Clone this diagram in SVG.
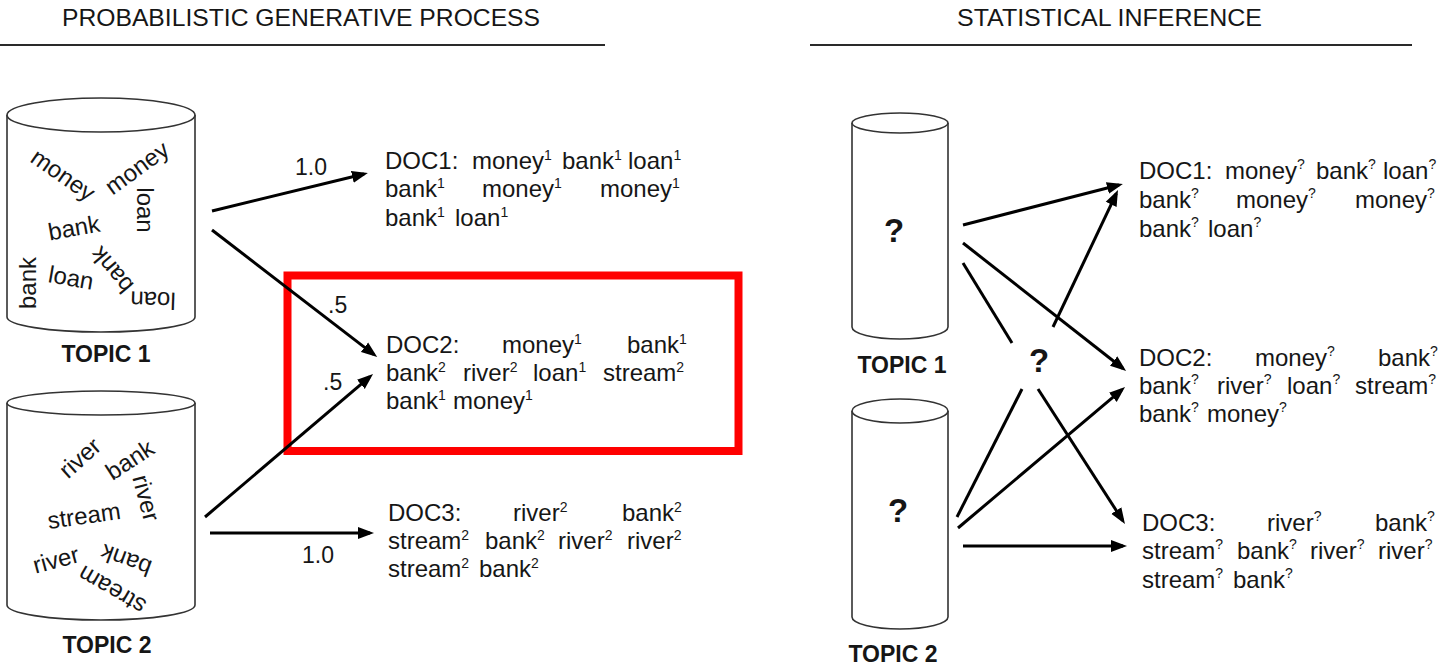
<svg xmlns="http://www.w3.org/2000/svg" width="1441" height="665" viewBox="0 0 1441 665">
  <style>
    text { font-family: "Liberation Sans", Arial, sans-serif; fill: #161616; }
    .title { font-size: 24px; }
    .doc { font-size: 24px; }
    .s { font-size: 14px; }
    .q { font-size: 14px; }
    .word { font-size: 24px; text-anchor: middle; }
    .label { font-size: 23px; font-weight: bold; text-anchor: middle; }
    .unknown { font-size: 33px; font-weight: bold; text-anchor: middle; }
    .prob { font-size: 23px; }
    .can { fill: #ffffff; stroke: #333333; stroke-width: 1.6; }
    .rule { stroke: #2a2a2a; stroke-width: 2; }
    .conn line { stroke: #000000; stroke-width: 3; }
    .arrow { marker-end: url(#head); }
  </style>
  <defs>
    <marker id="head" markerUnits="userSpaceOnUse" markerWidth="17" markerHeight="13" refX="12" refY="6.5" orient="auto">
      <path d="M0,0.5 L16,6.5 L0,12.5 z" fill="#000000"/>
    </marker>
  </defs>

  <rect width="1441" height="665" fill="#ffffff"/>

  <!-- section headings -->
  <g id="heading-generative">
    <text class="title" x="62" y="26" textLength="478" lengthAdjust="spacingAndGlyphs">PROBABILISTIC GENERATIVE PROCESS</text>
    <line class="rule" x1="0" y1="45" x2="605" y2="45"/>
  </g>
  <g id="heading-inference">
    <text class="title" x="957" y="26" textLength="305" lengthAdjust="spacingAndGlyphs">STATISTICAL INFERENCE</text>
    <line class="rule" x1="810" y1="45" x2="1412" y2="45"/>
  </g>

  <!-- generative side: topic 1 word bucket -->
  <g id="gen-topic1">
    <path class="can" d="M7,115 L7,317 A94,15 0 0 0 195,317 L195,115"/>
    <ellipse class="can" cx="101" cy="115" rx="94" ry="17"/>
    <text class="word" transform="translate(63,175) rotate(35)" y="8">money</text>
    <text class="word" transform="translate(137,168) rotate(-36)" y="8">money</text>
    <text class="word" transform="translate(145,210) rotate(90)" y="8">loan</text>
    <text class="word" transform="translate(74,228) rotate(-10)" y="8">bank</text>
    <text class="word" transform="translate(28,283) rotate(-90)" y="8">bank</text>
    <text class="word" transform="translate(71,278) rotate(10)" y="8">loan</text>
    <text class="word" transform="translate(112,270) rotate(230)" y="8">bank</text>
    <text class="word" transform="translate(153,300) rotate(182)" y="8">loan</text>
    <text class="label" x="106" y="362">TOPIC 1</text>
  </g>

  <!-- generative side: topic 2 word bucket -->
  <g id="gen-topic2">
    <path class="can" d="M7,403 L7,605 A94,15 0 0 0 195,605 L195,403"/>
    <ellipse class="can" cx="101" cy="403" rx="94" ry="12"/>
    <text class="word" transform="translate(80,458) rotate(-42)" y="8">river</text>
    <text class="word" transform="translate(130,460) rotate(-33)" y="8">bank</text>
    <text class="word" transform="translate(146,498) rotate(75)" y="8">river</text>
    <text class="word" transform="translate(84,516) rotate(-8)" y="8">stream</text>
    <text class="word" transform="translate(56,560) rotate(-15)" y="8">river</text>
    <text class="word" transform="translate(126,560) rotate(200)" y="8">bank</text>
    <text class="word" transform="translate(112,590) rotate(210)" y="8">stream</text>
    <text class="label" x="107" y="653">TOPIC 2</text>
  </g>

  <!-- generated documents -->
  <g id="gen-doc1">
    <text class="doc" y="169"><tspan x="385">DOC1:</tspan><tspan x="472">money</tspan><tspan class="s" dy="-9">1</tspan><tspan x="562" dy="9">bank</tspan><tspan class="s" dy="-9">1</tspan><tspan x="628" dy="9">loan</tspan><tspan class="s" dy="-9">1</tspan></text>
    <text class="doc" y="197"><tspan x="385">bank</tspan><tspan class="s" dy="-9">1</tspan><tspan x="482" dy="9">money</tspan><tspan class="s" dy="-9">1</tspan><tspan x="600" dy="9">money</tspan><tspan class="s" dy="-9">1</tspan></text>
    <text class="doc" y="226"><tspan x="385">bank</tspan><tspan class="s" dy="-9">1</tspan><tspan x="455" dy="9">loan</tspan><tspan class="s" dy="-9">1</tspan></text>
  </g>
  <g id="gen-doc2">
    <text class="doc" y="353"><tspan x="386">DOC2:</tspan><tspan x="502">money</tspan><tspan class="s" dy="-9">1</tspan><tspan x="627" dy="9">bank</tspan><tspan class="s" dy="-9">1</tspan></text>
    <text class="doc" y="381"><tspan x="386">bank</tspan><tspan class="s" dy="-9">2</tspan><tspan x="463" dy="9">river</tspan><tspan class="s" dy="-9">2</tspan><tspan x="533" dy="9">loan</tspan><tspan class="s" dy="-9">1</tspan><tspan x="603" dy="9">stream</tspan><tspan class="s" dy="-9">2</tspan></text>
    <text class="doc" y="409"><tspan x="386">bank</tspan><tspan class="s" dy="-9">1</tspan><tspan x="453" dy="9">money</tspan><tspan class="s" dy="-9">1</tspan></text>
  </g>
  <g id="gen-doc3">
    <text class="doc" y="521"><tspan x="388">DOC3:</tspan><tspan x="513">river</tspan><tspan class="s" dy="-9">2</tspan><tspan x="622" dy="9">bank</tspan><tspan class="s" dy="-9">2</tspan></text>
    <text class="doc" y="549"><tspan x="388">stream</tspan><tspan class="s" dy="-9">2</tspan><tspan x="485" dy="9">bank</tspan><tspan class="s" dy="-9">2</tspan><tspan x="558" dy="9">river</tspan><tspan class="s" dy="-9">2</tspan><tspan x="627" dy="9">river</tspan><tspan class="s" dy="-9">2</tspan></text>
    <text class="doc" y="577"><tspan x="388">stream</tspan><tspan class="s" dy="-9">2</tspan><tspan x="479" dy="9">bank</tspan><tspan class="s" dy="-9">2</tspan></text>
  </g>

  <!-- highlight around the mixed document -->
  <rect id="highlight" x="287.5" y="275.5" width="451" height="175.5" fill="none" stroke="#ff0000" stroke-width="8"/>

  <!-- inference side: unknown topics -->
  <g id="inf-topic1">
    <path class="can" d="M852,123 L852,327 A48,12 0 0 0 948,327 L948,123"/>
    <ellipse class="can" cx="900" cy="123" rx="48" ry="10"/>
    <text class="unknown" x="894" y="242">?</text>
    <text class="label" x="902" y="373">TOPIC 1</text>
  </g>
  <g id="inf-topic2">
    <path class="can" d="M852,411 L852,617 A48,12 0 0 0 948,617 L948,411"/>
    <ellipse class="can" cx="900" cy="411" rx="48" ry="12"/>
    <text class="unknown" x="898" y="522">?</text>
    <text class="label" x="893" y="662">TOPIC 2</text>
  </g>
  <g id="inf-mixture">
    <text class="unknown" x="1039" y="372">?</text>
  </g>

  <!-- documents with unknown assignments -->
  <g id="inf-doc1">
    <text class="doc" y="179"><tspan x="1139">DOC1:</tspan><tspan x="1225">money</tspan><tspan class="q" dy="-10">?</tspan><tspan x="1316" dy="10">bank</tspan><tspan class="q" dy="-10">?</tspan><tspan x="1383" dy="10">loan</tspan><tspan class="q" dy="-10">?</tspan></text>
    <text class="doc" y="208"><tspan x="1139">bank</tspan><tspan class="q" dy="-10">?</tspan><tspan x="1236" dy="10">money</tspan><tspan class="q" dy="-10">?</tspan><tspan x="1355" dy="10">money</tspan><tspan class="q" dy="-10">?</tspan></text>
    <text class="doc" y="237"><tspan x="1139">bank</tspan><tspan class="q" dy="-10">?</tspan><tspan x="1208" dy="10">loan</tspan><tspan class="q" dy="-10">?</tspan></text>
  </g>
  <g id="inf-doc2">
    <text class="doc" y="366"><tspan x="1139">DOC2:</tspan><tspan x="1255">money</tspan><tspan class="q" dy="-10">?</tspan><tspan x="1378" dy="10">bank</tspan><tspan class="q" dy="-10">?</tspan></text>
    <text class="doc" y="394"><tspan x="1139">bank</tspan><tspan class="q" dy="-10">?</tspan><tspan x="1217" dy="10">river</tspan><tspan class="q" dy="-10">?</tspan><tspan x="1287" dy="10">loan</tspan><tspan class="q" dy="-10">?</tspan><tspan x="1355" dy="10">stream</tspan><tspan class="q" dy="-10">?</tspan></text>
    <text class="doc" y="422"><tspan x="1139">bank</tspan><tspan class="q" dy="-10">?</tspan><tspan x="1207" dy="10">money</tspan><tspan class="q" dy="-10">?</tspan></text>
  </g>
  <g id="inf-doc3">
    <text class="doc" y="531"><tspan x="1142">DOC3:</tspan><tspan x="1267">river</tspan><tspan class="q" dy="-10">?</tspan><tspan x="1375" dy="10">bank</tspan><tspan class="q" dy="-10">?</tspan></text>
    <text class="doc" y="559"><tspan x="1142">stream</tspan><tspan class="q" dy="-10">?</tspan><tspan x="1237" dy="10">bank</tspan><tspan class="q" dy="-10">?</tspan><tspan x="1310" dy="10">river</tspan><tspan class="q" dy="-10">?</tspan><tspan x="1378" dy="10">river</tspan><tspan class="q" dy="-10">?</tspan></text>
    <text class="doc" y="588"><tspan x="1142">stream</tspan><tspan class="q" dy="-10">?</tspan><tspan x="1233" dy="10">bank</tspan><tspan class="q" dy="-10">?</tspan></text>
  </g>

  <!-- connectors -->
  <g id="connectors" class="conn">
    <!-- generative mixing weights -->
    <line class="arrow" x1="212" y1="211" x2="364" y2="174"/>
    <line class="arrow" x1="212" y1="230" x2="374" y2="354.6"/>
    <line class="arrow" x1="205" y1="517" x2="370" y2="376.6"/>
    <line class="arrow" x1="210" y1="533" x2="370" y2="533"/>
    <text class="prob" x="295" y="175">1.0</text>
    <text class="prob" x="328" y="313">.5</text>
    <text class="prob" x="323" y="390">.5</text>
    <text class="prob" x="302" y="563">1.0</text>
    <!-- inference: unknown assignments -->
    <line class="arrow" x1="963" y1="225" x2="1119" y2="185"/>
    <line class="arrow" x1="963" y1="243" x2="1123" y2="368.5"/>
    <line x1="963" y1="263" x2="1012" y2="343"/>
    <line class="arrow" x1="1053" y1="327" x2="1116.3" y2="193.6"/>
    <line x1="957" y1="517" x2="1022" y2="389"/>
    <line class="arrow" x1="958" y1="528" x2="1122" y2="389.6"/>
    <line class="arrow" x1="1038" y1="389" x2="1122.8" y2="520.6"/>
    <line class="arrow" x1="963" y1="546" x2="1123" y2="546"/>
  </g>
</svg>
